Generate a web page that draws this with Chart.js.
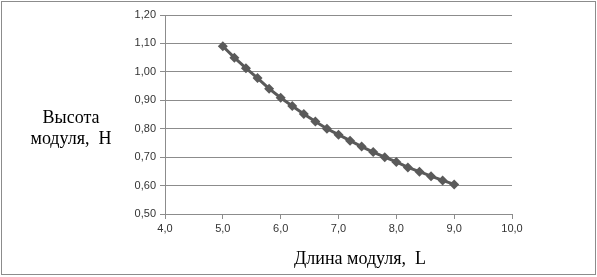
<!DOCTYPE html>
<html>
<head>
<meta charset="utf-8">
<script src="https://cdn.jsdelivr.net/npm/chart.js@4.4.0/dist/chart.umd.min.js"></script>
<style>
 html, body { margin: 0; padding: 0; background: #fff; }
 #wrap { width: 597px; height: 277px; position: relative; }
</style>
</head>
<body>
<div id="wrap"><canvas id="chart" width="597" height="277"></canvas></div>
<script>
// Длина модуля L (x) and Высота модуля H (y)
var lengthL = [5.0, 5.2, 5.4, 5.6, 5.8, 6.0, 6.2, 6.4, 6.6, 6.8, 7.0, 7.2, 7.4, 7.6, 7.8, 8.0, 8.2, 8.4, 8.6, 8.8, 9.0];
var heightH = [1.09, 1.05, 1.013, 0.978, 0.941, 0.909, 0.88, 0.852, 0.825, 0.80, 0.779, 0.758, 0.737, 0.718, 0.70, 0.683, 0.664, 0.649, 0.633, 0.618, 0.604];

var xTitle = 'Длина модуля,  L';
var yTitle = ['Высота', 'модуля,  H'];

var points = lengthL.map(function (x, i) { return { x: x, y: heightH[i] }; });

// axis titles and outer frame, drawn like the original (horizontal y title)
var extras = {
 id: 'extras',
 afterDraw: function (chart) {
  var ctx = chart.ctx;
  ctx.save();
  ctx.fillStyle = '#000';
  ctx.font = '18px "Liberation Serif", "DejaVu Serif", serif';
  ctx.textAlign = 'center';
  ctx.textBaseline = 'middle';
  ctx.fillText(yTitle[0], 71, 118);
  ctx.fillText(yTitle[1], 71, 139);
  ctx.fillText(xTitle, 360, 259);
  ctx.strokeStyle = '#8c8c8c';
  ctx.lineWidth = 1;
  ctx.strokeRect(1.5, 1.5, 594, 273);
  ctx.restore();
 }
};

new Chart(document.getElementById('chart').getContext('2d'), {
 type: 'scatter',
 data: {
  datasets: [{
   data: points,
   showLine: true,
   borderColor: '#5a5a5a',
   backgroundColor: '#5a5a5a',
   borderWidth: 3,
   pointStyle: 'rectRot',
   pointRadius: 5,
   pointBorderWidth: 0
  }]
 },
 options: {
  responsive: false,
  animation: false,
  layout: { padding: { top: 15, right: 85, left: 0, bottom: 0 } },
  plugins: { legend: { display: false }, tooltip: { enabled: false } },
  scales: {
   x: {
    type: 'linear',
    min: 4, max: 10,
    afterFit: function (s) { s.height = 63; },
    ticks: {
     stepSize: 1,
     color: '#333',
     font: { family: '"Liberation Sans", Arial, sans-serif', size: 11 },
     padding: 3,
     callback: function (v) { return v.toFixed(1).replace('.', ','); }
    },
    grid: { drawOnChartArea: false, color: '#8c8c8c', tickLength: 5 },
    border: { color: '#8c8c8c' }
   },
   y: {
    min: 0.5, max: 1.2,
    afterFit: function (s) { s.width = 165; },
    ticks: {
     stepSize: 0.1,
     color: '#333',
     font: { family: '"Liberation Sans", Arial, sans-serif', size: 11 },
     padding: 4,
     callback: function (v) { return v.toFixed(2).replace('.', ','); }
    },
    grid: { color: '#8c8c8c', tickLength: 5 },
    border: { color: '#8c8c8c' }
   }
  }
 },
 plugins: [extras]
});
</script>
</body>
</html>
